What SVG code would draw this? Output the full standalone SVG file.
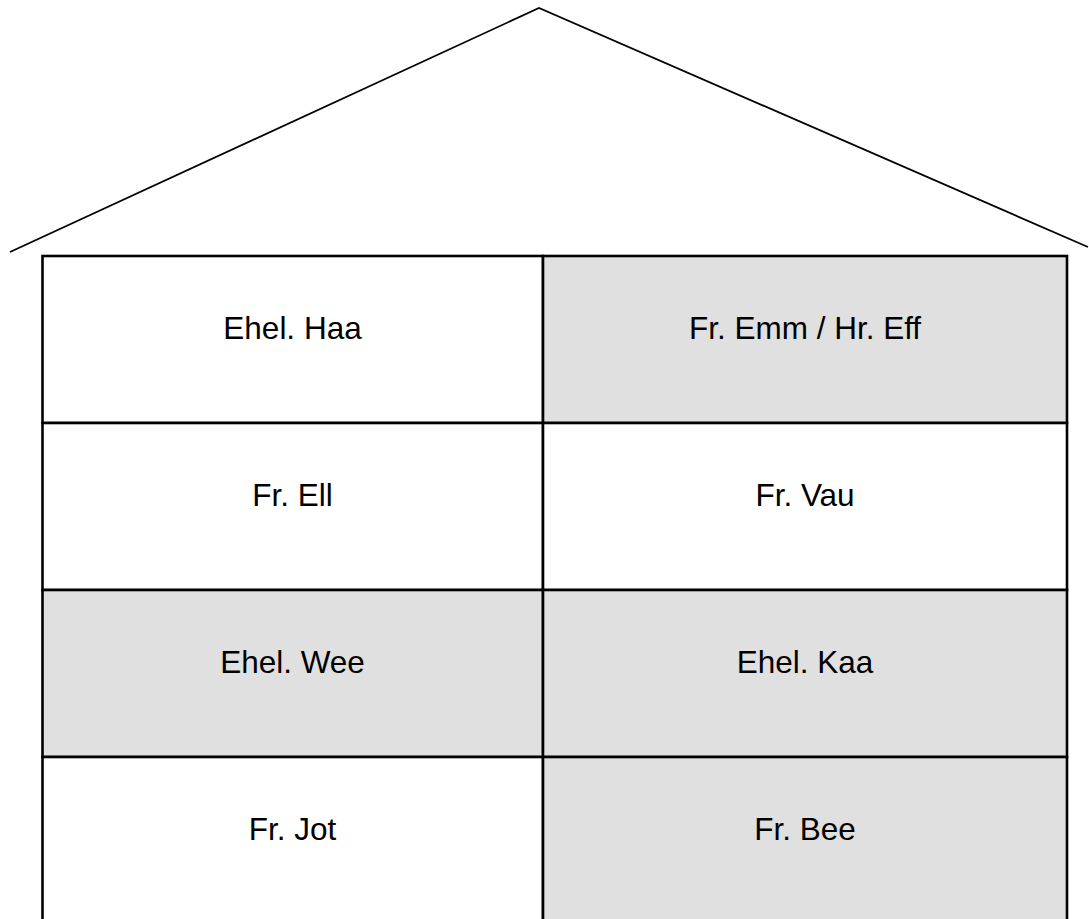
<svg xmlns="http://www.w3.org/2000/svg" width="1089" height="919" viewBox="0 0 1089 919">
  <style>
    .cell { stroke: #000; stroke-width: 2.6; }
    .w { fill: #ffffff; }
    .g { fill: #e0e0e0; }
    .lbl { font-family: "Liberation Sans", Arial, sans-serif; font-size: 31.5px; fill: #000; text-anchor: middle; }
    .roof { fill: none; stroke: #000; stroke-width: 1.8; }
  </style>
  <rect width="1089" height="919" fill="#fff"/>
  <g id="roof">
    <polyline class="roof" points="10,252 539,8 1088,247"/>
  </g>
  <g id="cell-haa"><rect class="cell w" x="42.5" y="256" width="500.5" height="167"/><text class="lbl" x="292.5" y="339">Ehel. Haa</text></g>
  <g id="cell-emm"><rect class="cell g" x="543" y="256" width="524" height="167"/><text class="lbl" x="805" y="339">Fr. Emm / Hr. Eff</text></g>
  <g id="cell-ell"><rect class="cell w" x="42.5" y="423" width="500.5" height="167"/><text class="lbl" x="292.5" y="506">Fr. Ell</text></g>
  <g id="cell-vau"><rect class="cell w" x="543" y="423" width="524" height="167"/><text class="lbl" x="805" y="506">Fr. Vau</text></g>
  <g id="cell-wee"><rect class="cell g" x="42.5" y="590" width="500.5" height="167"/><text class="lbl" x="292.5" y="673">Ehel. Wee</text></g>
  <g id="cell-kaa"><rect class="cell g" x="543" y="590" width="524" height="167"/><text class="lbl" x="805" y="673">Ehel. Kaa</text></g>
  <g id="cell-jot"><rect class="cell w" x="42.5" y="757" width="500.5" height="180"/><text class="lbl" x="292.5" y="840">Fr. Jot</text></g>
  <g id="cell-bee"><rect class="cell g" x="543" y="757" width="524" height="180"/><text class="lbl" x="805" y="840">Fr. Bee</text></g>
  <g id="connectors"></g>
</svg>
